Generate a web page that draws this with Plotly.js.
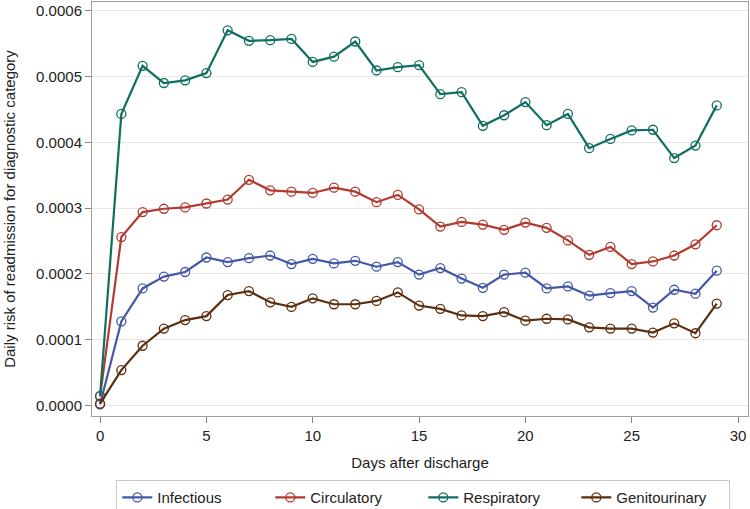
<!DOCTYPE html>
<html><head><meta charset="utf-8">
<script src="https://cdn.plot.ly/plotly-3.0.1.min.js"></script>
<style>html,body{margin:0;padding:0;background:#fff}#chart{width:750px;height:509px}</style>
</head><body><div id="chart"></div>
<script>
const days = [0,1,2,3,4,5,6,7,8,9,10,11,12,13,14,15,16,17,18,19,20,21,22,23,24,25,26,27,28,29];
const infectious = [0.000002,0.000128,0.000178,0.000196,0.000203,0.000225,0.000218,0.000224,0.000228,0.000215,0.000223,0.000216,0.000220,0.000211,0.000218,0.000199,0.000209,0.000193,0.000179,0.000199,0.000202,0.000178,0.000181,0.000167,0.000171,0.000174,0.000149,0.000176,0.000170,0.000205];
const circulatory = [0.000014,0.000256,0.000294,0.000299,0.000301,0.000307,0.000313,0.000343,0.000327,0.000325,0.000323,0.000331,0.000325,0.000309,0.000320,0.000298,0.000272,0.000279,0.000275,0.000267,0.000278,0.000270,0.000251,0.000229,0.000241,0.000215,0.000219,0.000228,0.000245,0.000274];
const respiratory = [0.000015,0.000443,0.000516,0.000490,0.000494,0.000505,0.000570,0.000554,0.000555,0.000557,0.000522,0.000530,0.000553,0.000509,0.000514,0.000517,0.000473,0.000476,0.000425,0.000441,0.000461,0.000426,0.000443,0.000391,0.000405,0.000418,0.000419,0.000376,0.000395,0.000456];
const genitourinary = [0.000003,0.000054,0.000091,0.000117,0.000130,0.000136,0.000168,0.000174,0.000157,0.000150,0.000163,0.000154,0.000154,0.000159,0.000172,0.000152,0.000147,0.000137,0.000136,0.000142,0.000129,0.000132,0.000131,0.000119,0.000117,0.000117,0.000111,0.000125,0.000110,0.000155];
const names = ['Infectious','Circulatory','Respiratory','Genitourinary'];
const colors = ['#4458a8','#b23a2f','#0f6e61','#5c2e0e'];
const series = [infectious, circulatory, respiratory, genitourinary];

const traces = series.map((s,i)=>({
  x: days, y: s, name: names[i], type:'scatter', mode:'lines+markers',
  line:{color:colors[i], width:2.2},
  marker:{symbol:'circle-open', size:9, color:colors[i], line:{width:1.3, color:colors[i]}}
}));

const layout = {
  width:750, height:509,
  margin:{l:92, r:2, t:2, b:93, autoexpand:false},
  paper_bgcolor:'#fff', plot_bgcolor:'#fff',
  font:{family:'Liberation Sans, Arial, sans-serif', size:15, color:'#222'},
  xaxis:{
    range:[-0.38,30.47], tickvals:[0,5,10,15,20,25,30], ticks:'outside', ticklen:6, tickcolor:'#888',
    showgrid:false, zeroline:false, showline:true, linecolor:'#a0a0a0', mirror:true, linewidth:1,
    title:{text:'Days after discharge', font:{size:15}, standoff:14},
    tickfont:{size:15}, automargin:false
  },
  yaxis:{
    range:[-0.0000157,0.000613], tickvals:[0,0.0001,0.0002,0.0003,0.0004,0.0005,0.0006], tickformat:'.4f',
    ticks:'outside', ticklen:6, tickcolor:'#888',
    showgrid:true, gridcolor:'#e6e6e6', zeroline:false, showline:true, linecolor:'#a0a0a0', mirror:true, linewidth:1,
    title:{text:'Daily risk of readmission for diagnostic category', font:{size:15}, standoff:16},
    tickfont:{size:15}, automargin:false
  },
  showlegend:true,
  legend:{orientation:'h', x:0.505, xanchor:'center', y:-0.155, yanchor:'top',
    bordercolor:'#c8c8c8', borderwidth:1, font:{size:15}, entrywidth:108, tracegroupgap:0}
};
Plotly.newPlot('chart', traces, layout, {displayModeBar:false, staticPlot:true});
</script></body></html>
